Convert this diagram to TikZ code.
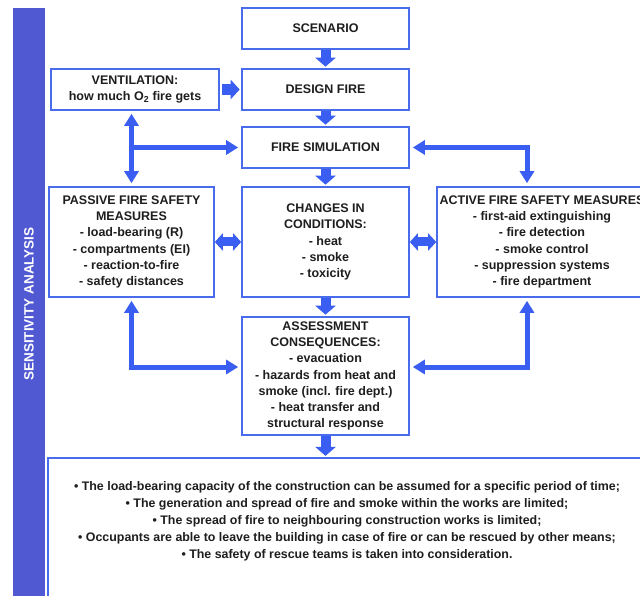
\documentclass[tikz,border=0pt]{standalone}
\usepackage{fontspec}
\setmainfont{Liberation Sans}
\usetikzlibrary{arrows.meta}
\definecolor{boxblue}{RGB}{72,108,236}
\definecolor{arrblue}{RGB}{58,94,242}
\definecolor{barblue}{RGB}{80,88,210}
\definecolor{txt}{RGB}{30,30,30}
\begin{document}
\begin{tikzpicture}[x=1pt, y=-1pt, line join=miter,
	box/.style={draw=boxblue, line width=1.6pt, fill=white, text=txt, align=center, inner sep=0pt, font=\bfseries\fontsize{12.5}{16.2}\selectfont},
	fat/.style={draw=arrblue, line width=10pt, -{Triangle[width=20pt,length=9pt]}, shorten >=1.5pt},
	fatboth/.style={draw=arrblue, line width=9pt, {Triangle[width=17pt,length=8pt]}-{Triangle[width=17pt,length=8pt]}},
	conn/.style={draw=arrblue, line width=5pt, shorten <=3pt, shorten >=3pt},
	tip/.style={arrows={-{Triangle[width=14pt,length=12pt]}}},
	tips/.style={arrows={{Triangle[width=14pt,length=12pt]}-{Triangle[width=14pt,length=12pt]}}}]
	\useasboundingbox (0,0) rectangle (640,596);
	\clip (0,0) rectangle (640,596);
	% side bar
	\node[fill=barblue, rotate=90, minimum width=592pt, minimum height=32pt, inner sep=0pt, text=white, font=\bfseries\fontsize{13.5}{16}\selectfont] (sens) at (29,304) {SENSITIVITY ANALYSIS};
	% boxes
	\node[box, minimum width=167pt, minimum height=41pt] (scen) at (325.5,28.5) {SCENARIO};
	\node[box, minimum width=167pt, minimum height=41pt] (dfire) at (325.5,89.5) {DESIGN FIRE};
	\node[box, minimum width=168pt, minimum height=41pt] (vent) at (135,89.5) {VENTILATION:\\how much O\textsubscript{2} fire gets};
	\node[box, minimum width=167pt, minimum height=41pt] (fsim) at (325.5,147.5) {FIRE SIMULATION};
	\node[box, minimum width=165pt, minimum height=110pt] (pass) at (131.5,242) {PASSIVE FIRE SAFETY\\MEASURES\\- load-bearing (R)\\- compartments (EI)\\- reaction-to-fire\\- safety distances};
	\node[box, minimum width=167pt, minimum height=110pt] (chg) at (325.5,242) {CHANGES IN\\CONDITIONS:\\- heat\\- smoke\\- toxicity};
	\node[box, minimum width=210pt, minimum height=110pt] (act) at (542,242) {ACTIVE FIRE SAFETY MEASURES\\- first-aid extinguishing\\- fire detection\\- smoke control\\- suppression systems\\- fire department};
	\node[box, minimum width=167pt, minimum height=118pt] (ass) at (325.5,376) {ASSESSMENT\\CONSEQUENCES:\\- evacuation\\- hazards from heat and\\smoke (incl. fire dept.)\\- heat transfer and\\structural response};
	\node[box, line width=1.2pt, minimum width=600pt, minimum height=142pt] (res) at (348,529) {};
	\node[text=txt, align=center, font=\bfseries\fontsize{12.4}{17}\selectfont] (restxt) at (347,521) {• The load-bearing capacity of the construction can be assumed for a specific period of time;\\• The generation and spread of fire and smoke within the works are limited;\\• The spread of fire to neighbouring construction works is limited;\\• Occupants are able to leave the building in case of fire or can be rescued by other means;\\• The safety of rescue teams is taken into consideration.};
	% block arrows
	\foreach \a/\b in {scen/dfire,dfire/fsim,fsim/chg,chg/ass}
	{\draw[fat] (\a)--(\b);}
	\draw[fat] (ass.south)--(ass.south |- res.north);
	\draw[fat, line width=11pt, -{Triangle[width=19pt,length=9pt]}, shorten <=2pt] (vent)--(dfire);
	\draw[fatboth] (pass)--(chg);
	\draw[fatboth] (chg)--(act);
	% feedback lines
	\draw[conn, tips] (vent.south -| pass.north)--(pass.north);
	\draw[conn, tip, shorten <=0pt] (pass.north |- fsim.west)--(fsim.west);
	\draw[conn, tips] (fsim.east) -| ([xshift=-15pt]act.north);
	\draw[conn, tips] (pass.south) |- ([yshift=9pt]ass.west);
	\draw[conn, tips] ([xshift=-15pt]act.south) |- ([yshift=9pt]ass.east);
\end{tikzpicture}
\end{document}
